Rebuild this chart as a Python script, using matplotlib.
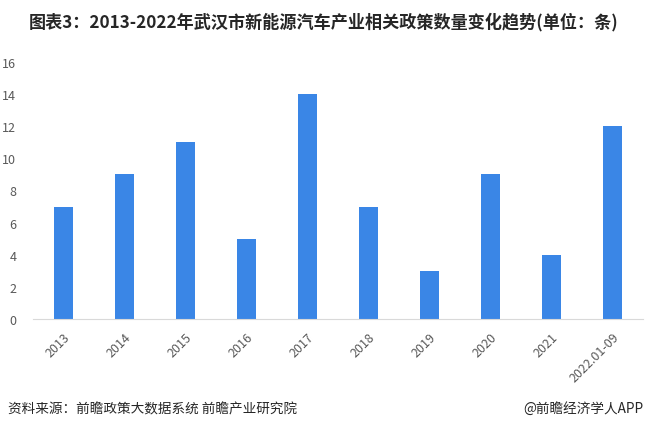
import matplotlib
matplotlib.use("Agg")
import matplotlib.pyplot as plt

plt.rcParams['font.family'] = ['Noto Sans CJK SC', 'DejaVu Sans']

years = ["2013", "2014", "2015", "2016", "2017", "2018", "2019", "2020", "2021", "2022.01-09"]
counts = [7, 9, 11, 5, 14, 7, 3, 9, 4, 12]

title = "图表3：2013-2022年武汉市新能源汽车产业相关政策数量变化趋势(单位：条)"
source = "资料来源：前瞻政策大数据系统 前瞻产业研究院"
brand = "@前瞻经济学人APP"

fig = plt.figure(figsize=(6.47, 4.31), dpi=100)
ax = fig.add_axes([0.051, 0.2575, 0.943, 0.5965])

ax.bar(range(len(years)), counts, width=0.31, color="#3a86e6")
ax.set_xlim(-0.5, len(years) - 0.5)
ax.set_ylim(0, 16)
ax.set_yticks(range(0, 17, 2))
ax.set_xticks(range(len(years)))
ax.set_xticklabels(years, rotation=45, ha="right", rotation_mode="anchor")

for s in ["top", "right", "left"]:
    ax.spines[s].set_visible(False)
ax.spines["bottom"].set_color("#d9d9d9")
ax.tick_params(axis="both", length=0, labelsize=9, colors="#595959")
ax.tick_params(axis="x", pad=8)
ax.tick_params(axis="y", pad=12)

fig.text(0.5, 0.948, title, ha="center", va="center", fontsize=12.3,
         fontweight="bold", color="#262626")
fig.text(0.012, 0.051, source, ha="left", va="center", fontsize=9.8, color="#262626")
fig.text(0.995, 0.051, brand, ha="right", va="center", fontsize=9.8, color="#262626")

fig.savefig("out.png", dpi=100)
